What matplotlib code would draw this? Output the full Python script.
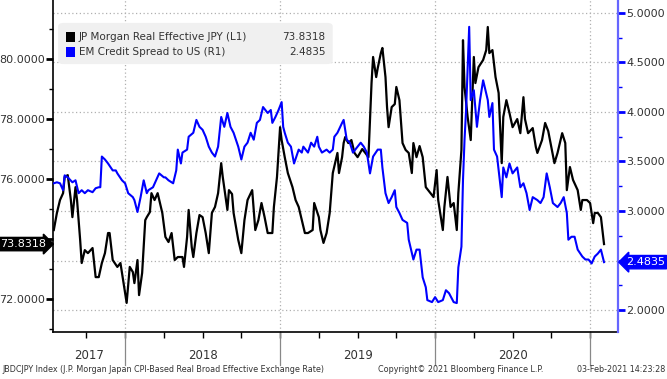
import matplotlib
matplotlib.use('Agg')
import matplotlib.pyplot as plt
import matplotlib.transforms as mtransforms
from matplotlib.patches import FancyBboxPatch
import numpy as np

# JP Morgan Real Effective JPY (left axis), time as decimal years
jpy_t = [2017.54, 2017.56, 2017.58, 2017.60, 2017.61, 2017.63, 2017.65, 2017.66, 2017.68, 2017.69,
         2017.71, 2017.72, 2017.74, 2017.76, 2017.79, 2017.81, 2017.83, 2017.85, 2017.87, 2017.89,
         2017.90, 2017.92, 2017.95, 2017.97, 2017.99, 2018.01, 2018.03, 2018.05, 2018.06, 2018.08,
         2018.09, 2018.11, 2018.13, 2018.14, 2018.16, 2018.17, 2018.19, 2018.21, 2018.24, 2018.26,
         2018.28, 2018.30, 2018.32, 2018.34, 2018.37, 2018.38, 2018.40, 2018.41, 2018.43, 2018.44,
         2018.46, 2018.48, 2018.50, 2018.52, 2018.54, 2018.56, 2018.58, 2018.60, 2018.62, 2018.63,
         2018.66, 2018.67, 2018.69, 2018.70, 2018.73, 2018.75, 2018.77, 2018.79, 2018.82, 2018.84,
         2018.86, 2018.88, 2018.90, 2018.92, 2018.95, 2018.96, 2018.98, 2019.00, 2019.01, 2019.03,
         2019.05, 2019.08, 2019.10, 2019.12, 2019.14, 2019.16, 2019.18, 2019.21, 2019.22, 2019.25,
         2019.26, 2019.28, 2019.30, 2019.32, 2019.34, 2019.37, 2019.38, 2019.40, 2019.41, 2019.42,
         2019.44, 2019.46, 2019.48, 2019.50, 2019.53, 2019.55, 2019.57, 2019.59, 2019.60, 2019.62,
         2019.63, 2019.65, 2019.66, 2019.68, 2019.69, 2019.70, 2019.72, 2019.74, 2019.75, 2019.77,
         2019.79, 2019.81, 2019.83, 2019.85, 2019.86, 2019.88, 2019.90, 2019.92, 2019.94, 2019.96,
         2019.99, 2020.01, 2020.02, 2020.05, 2020.06, 2020.08, 2020.10, 2020.12, 2020.14, 2020.15,
         2020.17, 2020.18, 2020.19, 2020.21, 2020.23, 2020.25, 2020.26, 2020.28, 2020.31, 2020.33,
         2020.34, 2020.35, 2020.37, 2020.39, 2020.41, 2020.43, 2020.44, 2020.46, 2020.48, 2020.50,
         2020.53, 2020.55, 2020.57, 2020.58, 2020.60, 2020.63, 2020.65, 2020.66, 2020.69, 2020.71,
         2020.73, 2020.75, 2020.77, 2020.79, 2020.82, 2020.84, 2020.85, 2020.87, 2020.89, 2020.92,
         2020.94, 2020.95, 2020.98, 2021.00, 2021.02, 2021.03, 2021.05, 2021.07, 2021.09]
jpy_v = [74.30, 74.87, 75.30, 75.53, 76.07, 76.13, 75.30, 74.73, 75.73, 75.30,
         73.97, 73.20, 73.63, 73.53, 73.70, 72.73, 72.73, 73.20, 73.53, 74.20,
         74.20, 73.30, 73.07, 73.20, 72.53, 71.87, 73.07, 72.90, 72.53, 73.30,
         72.13, 72.87, 74.63, 74.73, 74.90, 75.53, 75.30, 75.53, 74.87, 74.07,
         73.90, 74.20, 73.30, 73.40, 73.40, 73.07, 74.07, 74.97, 73.73, 73.40,
         74.20, 74.80, 74.73, 74.20, 73.53, 74.87, 75.07, 75.53, 76.53, 76.07,
         74.97, 75.63, 75.50, 74.87, 73.97, 73.53, 74.63, 75.30, 75.63, 74.30,
         74.63, 75.20, 74.73, 74.20, 74.20, 75.07, 76.07, 77.73, 77.30, 76.73,
         76.20, 75.73, 75.30, 75.07, 74.63, 74.20, 74.20, 74.30, 75.20, 74.73,
         74.30, 73.87, 74.20, 74.87, 76.20, 76.87, 76.20, 76.73, 77.20, 77.40,
         77.20, 77.30, 76.87, 76.73, 77.00, 76.87, 76.73, 79.20, 80.07, 79.40,
         79.70, 80.20, 80.37, 79.40, 78.40, 77.73, 78.40, 78.50, 79.07, 78.63,
         77.20, 76.97, 76.87, 76.20, 77.20, 76.73, 77.10, 76.73, 75.73, 75.60,
         75.40, 76.30, 75.30, 74.30, 75.07, 76.07, 75.07, 75.20, 74.30, 75.53,
         76.97, 80.63, 79.07, 78.07, 77.30, 80.07, 79.20, 79.73, 79.97, 80.30,
         81.07, 80.20, 80.30, 79.40, 78.87, 76.53, 78.07, 78.63, 78.20, 77.73,
         78.00, 77.53, 78.73, 78.00, 77.53, 77.70, 77.07, 76.87, 77.30, 77.87,
         77.60, 77.07, 76.53, 76.87, 77.53, 77.20, 75.63, 76.40, 75.97, 75.63,
         74.97, 75.30, 75.30, 75.20, 74.53, 74.87, 74.87, 74.73, 73.8318]

# EM Credit Spread to US (right axis)
em_t = [2017.54, 2017.56, 2017.58, 2017.60, 2017.61, 2017.63, 2017.66, 2017.68, 2017.70, 2017.72,
        2017.74, 2017.76, 2017.79, 2017.81, 2017.83, 2017.84, 2017.85, 2017.87, 2017.89, 2017.92,
        2017.94, 2017.95, 2017.98, 2018.00, 2018.02, 2018.05, 2018.06, 2018.08, 2018.10, 2018.12,
        2018.14, 2018.15, 2018.18, 2018.20, 2018.22, 2018.25, 2018.26, 2018.28, 2018.31, 2018.33,
        2018.34, 2018.36, 2018.37, 2018.40, 2018.41, 2018.44, 2018.46, 2018.48, 2018.50, 2018.52,
        2018.54, 2018.56, 2018.58, 2018.60, 2018.62, 2018.64, 2018.66, 2018.68, 2018.70, 2018.73,
        2018.75, 2018.77, 2018.79, 2018.81, 2018.83, 2018.85, 2018.87, 2018.89, 2018.92, 2018.94,
        2018.95, 2018.97, 2018.99, 2019.01, 2019.02, 2019.03, 2019.05, 2019.07, 2019.09, 2019.12,
        2019.14, 2019.15, 2019.18, 2019.20, 2019.22, 2019.24, 2019.25, 2019.27, 2019.30, 2019.32,
        2019.34, 2019.35, 2019.37, 2019.40, 2019.41, 2019.43, 2019.45, 2019.47, 2019.50, 2019.52,
        2019.54, 2019.56, 2019.58, 2019.60, 2019.63, 2019.65, 2019.66, 2019.68, 2019.70, 2019.72,
        2019.74, 2019.75, 2019.77, 2019.79, 2019.82, 2019.83, 2019.86, 2019.88, 2019.90, 2019.92,
        2019.94, 2019.95, 2019.98, 2020.00, 2020.02, 2020.05, 2020.07, 2020.09, 2020.12, 2020.14,
        2020.15, 2020.17, 2020.18, 2020.19, 2020.20, 2020.21, 2020.22, 2020.23, 2020.25, 2020.27,
        2020.29, 2020.31, 2020.34, 2020.35, 2020.37, 2020.38, 2020.40, 2020.43, 2020.44, 2020.46,
        2020.48, 2020.50, 2020.53, 2020.55, 2020.57, 2020.59, 2020.61, 2020.63, 2020.66, 2020.68,
        2020.70, 2020.72, 2020.74, 2020.76, 2020.79, 2020.81, 2020.83, 2020.85, 2020.86, 2020.88,
        2020.90, 2020.92, 2020.95, 2020.97, 2020.99, 2021.01, 2021.03, 2021.05, 2021.07, 2021.09]
em_v = [3.28, 3.29, 3.28, 3.21, 3.36, 3.34, 3.29, 3.31, 3.18, 3.21,
        3.18, 3.21, 3.19, 3.23, 3.24, 3.24, 3.55, 3.52, 3.48, 3.41,
        3.41, 3.38, 3.31, 3.28, 3.18, 3.14, 3.11, 2.99, 3.14, 3.31,
        3.18, 3.21, 3.24, 3.31, 3.38, 3.34, 3.34, 3.31, 3.28, 3.41,
        3.62, 3.48, 3.59, 3.62, 3.75, 3.79, 3.92, 3.85, 3.82, 3.75,
        3.65, 3.59, 3.55, 3.65, 3.95, 3.85, 3.99, 3.85, 3.79, 3.65,
        3.52, 3.65, 3.69, 3.79, 3.72, 3.89, 3.92, 4.05, 3.99, 4.02,
        3.89, 3.95, 4.02, 4.10, 3.85, 3.79, 3.69, 3.65, 3.48, 3.62,
        3.59, 3.65, 3.59, 3.69, 3.65, 3.75, 3.65, 3.59, 3.62, 3.59,
        3.62, 3.75, 3.79, 3.89, 3.92, 3.72, 3.69, 3.59, 3.65, 3.69,
        3.65, 3.59, 3.38, 3.55, 3.62, 3.62, 3.44, 3.18, 3.08, 3.14,
        3.21, 3.04, 2.98, 2.91, 2.88, 2.71, 2.51, 2.61, 2.61, 2.33,
        2.23, 2.10, 2.08, 2.13, 2.08, 2.10, 2.20, 2.17, 2.08, 2.07,
        2.43, 2.64, 3.31, 3.72, 4.02, 4.45, 4.86, 4.12, 4.22, 3.85,
        4.12, 4.32, 4.12, 3.95, 4.09, 3.62, 3.55, 3.14, 3.44, 3.34,
        3.48, 3.38, 3.44, 3.24, 3.28, 3.18, 3.01, 3.14, 3.11, 3.08,
        3.14, 3.38, 3.24, 3.08, 3.04, 3.08, 3.14, 2.98, 2.71, 2.74,
        2.74, 2.61, 2.54, 2.51, 2.51, 2.47, 2.54, 2.57, 2.61, 2.4835]

years = [2017, 2018, 2019, 2020]
year_starts = [2018, 2019, 2020, 2021]
quarters = [2017.75, 2018.0, 2018.25, 2018.5, 2018.75, 2019.0, 2019.25, 2019.5, 2019.75,
            2020.0, 2020.25, 2020.5, 2020.75, 2021.0]
left_major = [72, 74, 76, 78, 80]
left_labels = ['72.0000', '', '76.0000', '78.0000', '80.0000']  # 74 hidden by the last value tag
left_minor = [71, 73, 75, 77, 79, 81]
right_major = [2.0, 2.5, 3.0, 3.5, 4.0, 4.5, 5.0]
right_labels = ['2.0000', '', '3.0000', '3.5000', '4.0000', '4.5000', '5.0000']
right_minor = [2.25, 2.75, 3.25, 3.75, 4.25, 4.75]

xmin, xmax = 2017.535, 2021.18
blue = '#0000ff'
grid_c = '#b0b0b0'
txt_c = '#333333'

fig = plt.figure(figsize=(6.67, 3.79), dpi=100)
ax = fig.add_axes([0.0795, 0.124, 0.847, 0.876])
ax2 = ax.twinx()

ax.set_xlim(xmin, xmax)
ax.set_ylim(70.9, 81.97)
ax2.set_ylim(1.778, 5.131)

# dotted grid, drawn on the bottom axes so the lines stay on top
htrans = mtransforms.blended_transform_factory(ax.transAxes, ax2.transData)
for v in right_major:
    ax.plot([0, 1], [v, v], transform=htrans, color=grid_c, ls=(0, (1, 2)), lw=0.9, zorder=0)
for ys in year_starts:
    ax.axvline(ys, color=grid_c, ls=(0, (1, 2)), lw=0.9, zorder=0)

ax.plot(jpy_t, jpy_v, color='black', lw=1.6, zorder=3)
ax2.plot(em_t, em_v, color=blue, lw=1.5, zorder=3)

# spines
for s in ['top', 'right']:
    ax.spines[s].set_visible(False)
for s in ['top', 'left', 'bottom']:
    ax2.spines[s].set_visible(False)
ax.spines['left'].set_linewidth(1.2)
ax.spines['bottom'].set_linewidth(1.2)
ax2.spines['right'].set_color('#6666ff')
ax2.spines['right'].set_linewidth(1.6)

# left axis ticks
ax.set_yticks(left_major)
ax.set_yticks(left_minor, minor=True)
ax.set_yticklabels(left_labels)
ax.tick_params(axis='y', which='major', direction='out', length=5, width=2,
               colors='black', labelcolor=txt_c, labelsize=8, pad=1)
ax.tick_params(axis='y', which='minor', direction='out', length=3, width=1, colors='black')

# right axis ticks
ax2.set_yticks(right_major)
ax2.set_yticks(right_minor, minor=True)
ax2.set_yticklabels(right_labels)
ax2.tick_params(axis='y', which='major', direction='out', length=5, width=2,
                colors=blue, labelcolor=txt_c, labelsize=8, pad=1)
ax2.tick_params(axis='y', which='minor', direction='out', length=3, width=1, colors=blue)

# x axis: quarter ticks, year separators and labels
ax.set_xticks(quarters)
ax.set_xticklabels([])
ax.tick_params(axis='x', direction='out', length=4, width=1, colors='black')
xtrans = mtransforms.blended_transform_factory(ax.transData, ax.transAxes)
for ys in year_starts:
    ax.plot([ys, ys], [0, -0.1], transform=xtrans, color='#888888', lw=0.9, clip_on=False)
for y in years:
    lo = max(y, xmin)
    hi = min(y + 1, xmax)
    ax.text((lo + hi) / 2, -0.07, str(y), transform=xtrans, ha='center', va='center',
            fontsize=8.5, color=txt_c)

# legend box
leg = FancyBboxPatch((0.009, 0.807), 0.486, 0.124, boxstyle='round,pad=0,rounding_size=0.01',
                     transform=ax.transAxes, fc='#f0f0f0', ec='none', zorder=4)
ax.add_patch(leg)
rows = [('JP Morgan Real Effective JPY (L1)', '%.4f' % jpy_v[-1], 'black', 0.889),
        ('EM Credit Spread to US (R1)', '%.4f' % em_v[-1], blue, 0.843)]
for name, val, col, yy in rows:
    ax.add_patch(plt.Rectangle((0.023, yy - 0.014), 0.016, 0.028, transform=ax.transAxes,
                               fc=col, ec='none', zorder=5))
    ax.text(0.046, yy, name, transform=ax.transAxes, ha='left', va='center',
            fontsize=7.5, color=txt_c, zorder=5)
    ax.text(0.482, yy, val, transform=ax.transAxes, ha='right', va='center',
            fontsize=7.5, color=txt_c, zorder=5)

# last value tags on both axes
ltrans = mtransforms.blended_transform_factory(ax.transAxes, ax.transData)
ax.text(-0.012, jpy_v[-1], '%.4f' % jpy_v[-1], transform=ltrans, ha='right', va='center',
        fontsize=8, color='white', clip_on=False, zorder=6,
        bbox=dict(boxstyle='rarrow,pad=0.15', fc='black', ec='black'))
rtrans = mtransforms.blended_transform_factory(ax2.transAxes, ax2.transData)
ax2.text(1.014, em_v[-1], '%.4f' % em_v[-1], transform=rtrans, ha='left', va='center',
         fontsize=8, color='white', clip_on=False, zorder=6,
         bbox=dict(boxstyle='larrow,pad=0.15', fc=blue, ec=blue))

# footer
fig.text(0.003, 0.025, 'JBDCJPY Index (J.P. Morgan Japan CPI-Based Real Broad Effective Exchange Rate)',
         fontsize=5.8, color=txt_c, ha='left', va='center')
fig.text(0.567, 0.025, 'Copyright\u00a9 2021 Bloomberg Finance L.P.', fontsize=5.8, color=txt_c,
         ha='left', va='center')
fig.text(0.997, 0.025, '03-Feb-2021 14:23:28', fontsize=5.8, color=txt_c, ha='right', va='center')

fig.savefig('out.png', dpi=100)
